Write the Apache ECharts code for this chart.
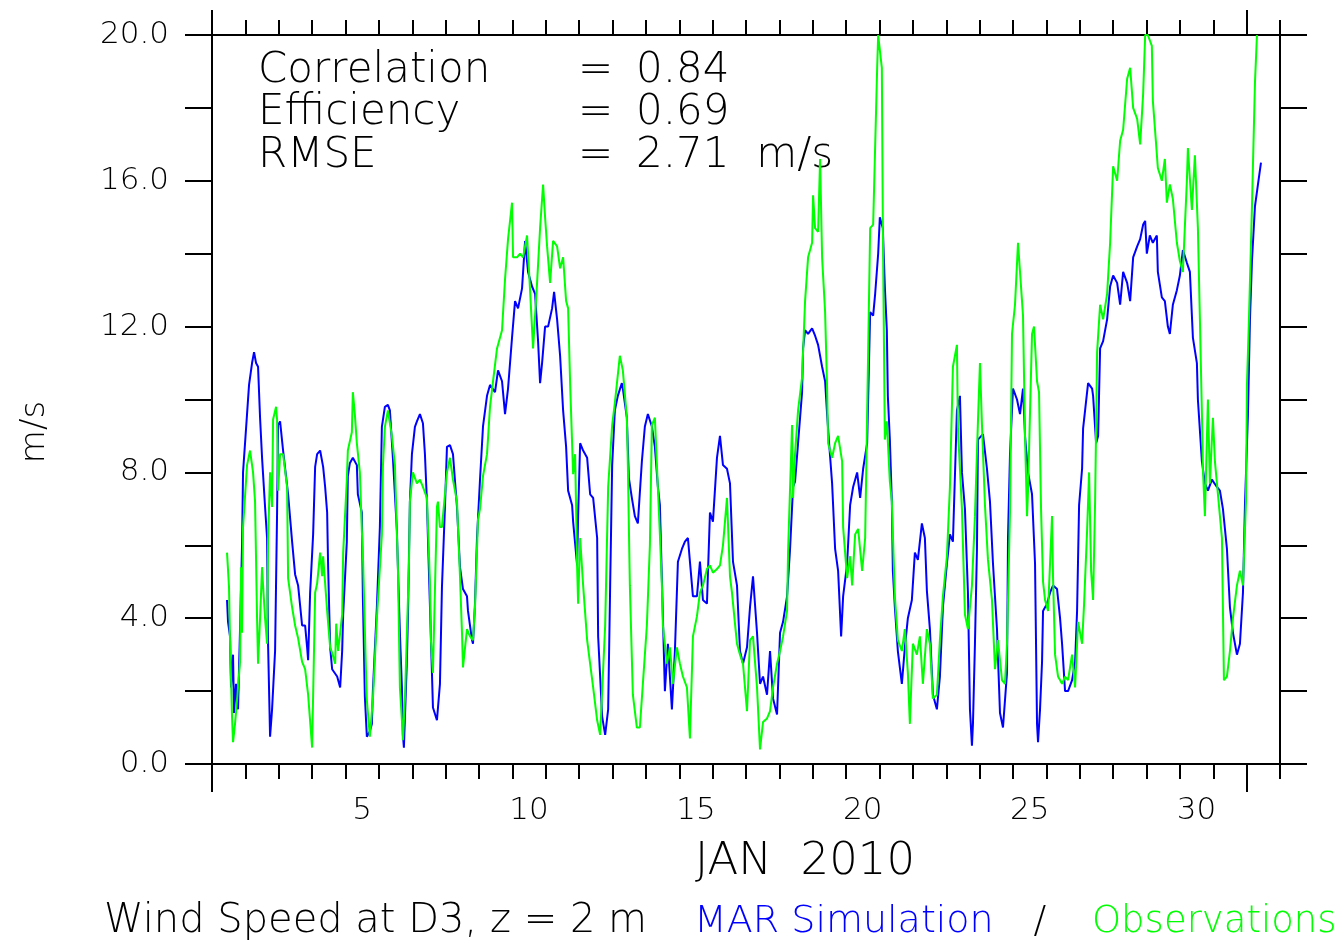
<!DOCTYPE html>
<html>
<head>
<meta charset="utf-8">
<title>Wind Speed at D3</title>
<script src="https://cdn.jsdelivr.net/npm/echarts@6/dist/echarts.min.js"></script>
<style>
  html, body { margin: 0; padding: 0; background: #fff; }
  #chart { width: 1337px; height: 946px; }
</style>
</head>
<body>
<div id="chart"></div>
<script>
// [day since 1 Jan 2010 00:00, wind speed m/s]
const simulation = [
  [0.45,4.5],[0.48,3.9],[0.54,3.5],[0.57,2.1],[0.63,3.0],[0.66,1.4],[0.72,2.2],[0.78,1.5],[0.84,3.7],[0.90,6.0],
  [0.93,8.0],[1.05,9.6],[1.11,10.4],[1.20,11.0],[1.26,11.3],[1.32,11.0],[1.38,10.9],[1.44,9.5],[1.50,8.4],[1.59,7.05],
  [1.65,6.2],[1.68,3.3],[1.74,0.75],[1.80,1.5],[1.89,3.1],[1.95,6.9],[1.98,9.3],[2.04,9.4],[2.13,8.6],[2.28,7.4],
  [2.40,6.1],[2.49,5.2],[2.58,4.9],[2.70,3.8],[2.79,3.8],[2.85,3.2],[2.88,2.85],[2.94,4.7],[3.03,6.3],[3.09,8.15],
  [3.15,8.5],[3.24,8.6],[3.33,8.15],[3.39,7.6],[3.45,6.9],[3.48,5.4],[3.54,3.2],[3.60,2.6],[3.75,2.4],[3.84,2.1],
  [3.90,3.1],[3.93,4.1],[4.04,6.1],[4.07,7.9],[4.13,8.25],[4.22,8.4],[4.34,8.2],[4.37,7.4],[4.49,6.9],[4.52,4.6],
  [4.58,1.85],[4.64,0.75],[4.73,0.9],[4.79,1.1],[4.82,2.0],[4.94,4.3],[5.03,6.5],[5.09,9.25],[5.18,9.8],[5.27,9.85],
  [5.33,9.7],[5.42,8.4],[5.54,6.4],[5.57,5.4],[5.63,3.6],[5.69,2.1],[5.72,0.8],[5.75,0.45],[5.84,2.85],[5.87,4.0],
  [5.93,7.2],[5.99,8.5],[6.08,9.25],[6.14,9.4],[6.23,9.6],[6.32,9.35],[6.38,8.5],[6.44,7.2],[6.47,6.2],[6.59,2.5],
  [6.62,1.55],[6.74,1.2],[6.83,2.2],[6.89,4.85],[6.98,7.05],[7.04,8.7],[7.13,8.75],[7.22,8.5],[7.34,7.05],[7.43,5.4],
  [7.52,4.8],[7.64,4.6],[7.67,4.2],[7.79,3.4],[7.82,3.3],[7.88,4.4],[7.94,6.2],[8.03,7.8],[8.12,9.26],[8.24,10.1],
  [8.33,10.4],[8.48,10.2],[8.57,10.8],[8.69,10.5],[8.78,9.6],[8.87,10.3],[8.99,11.7],[9.08,12.7],[9.17,12.5],[9.29,13.05],
  [9.38,14.35],[9.47,13.5],[9.59,13.1],[9.68,12.9],[9.77,11.6],[9.83,10.45],[9.89,11.0],[9.98,12.0],[10.07,12.0],[10.19,12.5],
  [10.25,12.95],[10.34,12.2],[10.43,11.2],[10.52,9.7],[10.61,8.7],[10.67,7.5],[10.79,7.1],[10.82,6.65],[10.94,5.45],[10.97,6.8],
  [11.03,8.8],[11.12,8.6],[11.24,8.4],[11.33,7.4],[11.42,7.3],[11.54,6.2],[11.57,3.5],[11.69,1.3],[11.78,0.8],[11.87,1.5],
  [11.93,4.9],[11.99,8.2],[12.07,9.7],[12.16,10.1],[12.28,10.45],[12.31,10.3],[12.43,9.5],[12.49,7.85],[12.58,7.3],[12.67,6.8],
  [12.76,6.6],[12.88,8.3],[12.97,9.26],[13.06,9.6],[13.18,9.26],[13.27,8.7],[13.36,7.6],[13.42,7.1],[13.57,2.0],[13.66,3.3],
  [13.78,1.5],[13.87,3.1],[13.96,5.55],[14.08,5.9],[14.17,6.1],[14.26,6.2],[14.32,5.55],[14.41,4.6],[14.53,4.6],[14.62,5.55],
  [14.71,4.5],[14.83,4.4],[14.92,6.9],[15.01,6.65],[15.13,8.4],[15.22,9.0],[15.31,8.2],[15.43,8.1],[15.52,7.7],[15.61,5.55],
  [15.73,4.9],[15.82,3.1],[15.91,2.75],[16.03,3.2],[16.12,4.3],[16.21,5.15],[16.33,3.6],[16.42,2.2],[16.51,2.4],[16.63,1.9],
  [16.72,3.1],[16.81,1.8],[16.93,1.36],[17.02,3.6],[17.11,3.9],[17.23,4.6],[17.32,5.9],[17.41,7.6],[17.47,7.75],[17.56,8.8],
  [17.68,10.2],[17.71,11.4],[17.77,11.9],[17.86,11.8],[17.98,11.95],[18.07,11.75],[18.16,11.5],[18.28,10.9],[18.37,10.5],[18.43,9.6],
  [18.49,8.8],[18.58,7.7],[18.61,7.1],[18.67,5.9],[18.76,5.3],[18.85,3.5],[18.91,4.6],[19.03,5.5],[19.12,7.1],[19.21,7.6],
  [19.33,8.0],[19.42,7.3],[19.51,8.1],[19.63,8.8],[19.72,12.4],[19.81,12.3],[19.87,12.9],[19.96,14.0],[20.01,15.0],[20.10,14.7],
  [20.16,13.1],[20.22,11.9],[20.25,10.1],[20.31,8.9],[20.37,7.2],[20.40,5.3],[20.46,4.3],[20.55,3.1],[20.67,2.2],[20.76,3.2],
  [20.85,4.0],[20.97,4.5],[21.06,5.8],[21.15,5.6],[21.27,6.6],[21.36,6.2],[21.42,4.75],[21.51,3.7],[21.60,1.9],[21.72,1.5],
  [21.81,2.4],[21.90,4.3],[22.02,5.5],[22.11,6.3],[22.20,6.1],[22.32,9.7],[22.41,10.1],[22.47,8.0],[22.56,7.0],[22.65,4.7],
  [22.71,1.5],[22.77,0.5],[22.80,1.1],[22.86,3.3],[22.92,5.9],[22.95,8.9],[23.10,9.05],[23.22,8.1],[23.31,7.2],[23.40,5.5],
  [23.52,3.7],[23.61,1.4],[23.70,1.0],[23.82,2.5],[23.85,6.2],[23.91,8.5],[24.00,10.3],[24.12,10.0],[24.21,9.6],[24.30,10.3],
  [24.36,9.0],[24.45,8.0],[24.57,7.4],[24.66,5.5],[24.72,1.1],[24.75,0.6],[24.81,1.5],[24.87,2.8],[24.90,4.2],[25.02,4.4],
  [25.11,4.7],[25.20,4.9],[25.32,4.8],[25.41,4.0],[25.47,3.3],[25.56,2.0],[25.65,2.0],[25.77,2.3],[25.86,2.8],[25.92,4.2],
  [25.98,7.1],[26.07,8.1],[26.10,9.2],[26.16,9.7],[26.25,10.45],[26.37,10.3],[26.40,10.1],[26.49,8.8],[26.55,9.0],[26.61,11.4],
  [26.70,11.6],[26.82,12.2],[26.91,13.1],[27.00,13.4],[27.12,13.2],[27.21,12.6],[27.30,13.5],[27.42,13.2],[27.51,12.7],[27.60,13.9],
  [27.72,14.2],[27.81,14.4],[27.90,14.8],[27.96,14.9],[28.01,14.0],[28.10,14.5],[28.19,14.3],[28.31,14.5],[28.34,13.5],[28.46,12.8],
  [28.55,12.7],[28.64,12.0],[28.70,11.8],[28.79,12.6],[28.91,13.0],[29.00,13.4],[29.09,14.1],[29.21,13.75],[29.30,13.5],[29.36,12.3],
  [29.39,11.7],[29.51,11.0],[29.54,10.0],[29.66,8.3],[29.75,7.7],[29.84,7.5],[29.96,7.8],[30.11,7.6],[30.20,7.5],[30.29,7.0],
  [30.41,5.9],[30.50,4.3],[30.59,3.6],[30.71,3.0],[30.80,3.3],[30.89,4.7],[30.95,7.1],[31.04,9.6],[31.10,12.2],[31.16,13.8],
  [31.25,15.3],[31.34,15.9],[31.43,16.5]
];

const observations = [
  [0.45,5.8],[0.51,4.85],[0.54,3.4],[0.60,1.3],[0.63,0.6],[0.69,1.1],[0.75,1.75],[0.84,2.8],[0.87,5.4],[0.90,3.6],
  [0.93,6.5],[1.05,8.2],[1.14,8.6],[1.23,8.0],[1.29,7.2],[1.35,4.0],[1.38,2.75],[1.44,4.0],[1.50,5.4],[1.53,4.9],
  [1.59,4.0],[1.65,3.3],[1.68,6.15],[1.74,8.0],[1.80,7.05],[1.83,9.45],[1.92,9.8],[1.95,9.45],[1.98,7.5],[2.04,8.5],
  [2.13,8.5],[2.25,7.6],[2.28,5.1],[2.40,4.3],[2.49,3.8],[2.58,3.45],[2.70,2.8],[2.79,2.6],[2.88,1.9],[3.00,0.45],
  [3.09,4.7],[3.15,4.95],[3.24,5.8],[3.30,5.15],[3.33,5.7],[3.45,4.2],[3.54,3.2],[3.60,3.05],[3.69,2.75],[3.72,3.85],
  [3.78,3.1],[3.90,4.1],[3.93,5.8],[4.04,7.8],[4.07,8.6],[4.19,9.1],[4.22,10.2],[4.28,9.6],[4.34,8.8],[4.43,8.0],
  [4.49,6.4],[4.52,5.8],[4.61,2.65],[4.64,1.75],[4.73,0.75],[4.82,1.75],[4.94,4.0],[5.09,6.3],[5.12,8.15],[5.18,9.25],
  [5.27,9.7],[5.39,9.0],[5.48,8.2],[5.57,5.4],[5.63,2.1],[5.69,1.2],[5.72,0.65],[5.78,1.75],[5.84,3.6],[5.90,5.4],
  [5.93,7.2],[6.02,8.0],[6.14,7.7],[6.23,7.8],[6.32,7.6],[6.44,7.3],[6.53,5.0],[6.56,3.4],[6.62,2.5],[6.74,7.05],
  [6.77,7.2],[6.83,6.5],[6.89,6.5],[6.98,7.4],[7.04,8.0],[7.13,8.4],[7.22,7.8],[7.34,7.2],[7.43,5.15],[7.49,3.6],
  [7.52,2.65],[7.64,3.7],[7.73,3.5],[7.82,3.4],[7.88,4.3],[7.97,6.7],[8.03,7.0],[8.12,7.9],[8.24,8.5],[8.33,9.8],
  [8.42,10.5],[8.54,11.4],[8.69,11.9],[8.78,13.3],[8.87,14.4],[8.99,15.4],[9.02,13.9],[9.14,13.9],[9.23,14.0],[9.32,13.9],
  [9.44,14.5],[9.53,13.0],[9.62,11.4],[9.74,13.2],[9.83,14.7],[9.92,15.9],[9.98,15.0],[10.04,14.2],[10.13,13.2],[10.22,14.35],
  [10.34,14.2],[10.43,13.6],[10.52,13.9],[10.61,12.7],[10.67,12.5],[10.73,10.45],[10.82,7.95],[10.88,8.5],[10.94,5.4],[10.97,4.4],
  [11.03,6.2],[11.12,4.9],[11.24,3.4],[11.33,2.75],[11.42,2.1],[11.54,1.2],[11.63,0.8],[11.78,3.8],[11.87,7.6],[11.99,9.3],
  [12.07,9.9],[12.22,11.2],[12.31,10.8],[12.43,9.5],[12.46,8.2],[12.52,4.9],[12.61,1.9],[12.73,1.0],[12.82,1.0],[12.91,2.2],
  [13.03,3.8],[13.12,6.0],[13.18,9.3],[13.27,9.5],[13.33,8.2],[13.42,6.3],[13.48,4.9],[13.51,3.8],[13.63,2.75],[13.72,3.2],
  [13.81,2.2],[13.93,3.2],[14.02,2.75],[14.11,2.4],[14.23,2.1],[14.32,0.7],[14.41,3.5],[14.53,4.05],[14.62,4.7],[14.71,4.9],
  [14.83,5.35],[14.92,5.45],[15.01,5.25],[15.13,5.35],[15.22,5.45],[15.31,6.0],[15.43,7.3],[15.52,5.15],[15.58,4.7],[15.67,3.85],
  [15.73,3.3],[15.82,3.0],[15.91,2.75],[16.03,1.45],[16.12,3.4],[16.21,3.5],[16.33,2.1],[16.42,0.4],[16.51,1.15],[16.63,1.25],
  [16.72,1.45],[16.81,2.1],[16.93,2.75],[17.02,3.1],[17.11,3.5],[17.23,4.2],[17.26,5.8],[17.38,9.3],[17.41,7.3],[17.47,8.5],
  [17.56,9.7],[17.68,10.6],[17.77,12.7],[17.86,13.9],[17.98,14.3],[18.01,15.6],[18.07,14.7],[18.16,14.6],[18.22,16.6],[18.28,13.9],
  [18.37,12.4],[18.43,10.3],[18.46,8.8],[18.58,8.4],[18.67,8.8],[18.76,9.0],[18.88,8.3],[18.91,6.5],[19.03,5.1],[19.12,5.7],
  [19.18,4.9],[19.27,6.3],[19.36,6.45],[19.48,5.3],[19.57,6.2],[19.63,9.6],[19.72,14.7],[19.81,14.8],[19.93,19.1],[19.96,20.0],
  [20.07,19.1],[20.10,14.8],[20.16,8.9],[20.22,9.4],[20.31,7.75],[20.37,7.2],[20.46,4.6],[20.55,3.4],[20.67,3.1],[20.76,3.7],
  [20.85,2.5],[20.91,1.1],[21.00,3.3],[21.12,3.0],[21.21,3.5],[21.30,2.2],[21.42,3.7],[21.51,3.3],[21.60,1.8],[21.72,1.9],
  [21.81,3.4],[21.90,4.6],[22.02,5.7],[22.11,7.6],[22.20,10.9],[22.32,11.5],[22.35,9.2],[22.47,7.0],[22.56,4.1],[22.65,3.7],
  [22.77,4.9],[22.86,6.8],[22.95,9.4],[23.01,11.0],[23.07,9.3],[23.16,7.1],[23.25,5.6],[23.37,4.5],[23.46,2.6],[23.55,3.4],
  [23.67,2.3],[23.76,2.2],[23.82,3.3],[23.91,6.9],[23.97,11.8],[24.06,12.6],[24.15,14.3],[24.21,13.5],[24.30,12.3],[24.36,9.0],
  [24.42,6.8],[24.45,7.5],[24.57,11.8],[24.63,12.0],[24.72,10.5],[24.78,10.2],[24.84,7.0],[24.90,5.0],[24.96,4.5],[25.05,4.2],
  [25.17,6.8],[25.20,5.1],[25.26,3.0],[25.35,2.4],[25.47,2.2],[25.56,2.4],[25.65,2.3],[25.77,3.0],[25.86,2.1],[25.95,3.9],
  [26.07,3.3],[26.13,4.4],[26.22,6.4],[26.28,8.0],[26.34,5.3],[26.40,4.5],[26.46,7.2],[26.52,11.3],[26.61,12.6],[26.70,12.2],
  [26.82,12.9],[26.91,14.3],[27.00,16.4],[27.12,16.0],[27.21,17.1],[27.30,17.4],[27.42,18.8],[27.51,19.1],[27.60,18.0],[27.72,17.7],
  [27.81,17.0],[27.90,18.4],[27.96,20.0],[28.04,20.0],[28.16,19.7],[28.19,18.2],[28.28,17.1],[28.34,16.35],[28.46,16.0],[28.55,16.6],
  [28.61,15.4],[28.70,15.9],[28.79,15.5],[28.91,14.3],[29.00,13.8],[29.09,13.5],[29.21,16.0],[29.24,16.9],[29.36,15.2],[29.45,16.7],
  [29.54,14.7],[29.60,12.2],[29.66,9.6],[29.69,8.1],[29.75,6.8],[29.84,10.0],[29.90,7.7],[29.99,9.5],[30.05,8.3],[30.14,7.4],
  [30.26,6.2],[30.32,2.3],[30.41,2.4],[30.50,3.1],[30.59,4.0],[30.71,4.9],[30.80,5.3],[30.89,4.9],[30.98,7.2],[31.01,10.4],
  [31.07,12.2],[31.16,15.3],[31.25,18.7],[31.31,20.0]
];

const dayTicks = [1,2,3,4,5,6,7,8,9,10,11,12,13,14,15,16,17,18,19,20,21,22,23,24,25,26,27,28,29,30,32];
const monthTicks = [0, 31];
const dayLabelPos = [4.5, 9.5, 14.5, 19.5, 24.5, 29.5];
const speedTicks = [0,2,4,6,8,10,12,14,16,18,20];
const speedLabels = [0,4,8,12,16,20];
const statNames = ["Correlation", "Efficiency", "RMSE"];
const statValues = ["0.84", "0.69", "2.71  m/s"];

const FONT = "DejaVu Sans";
const INK = "#000";
const tickStyle = { color: INK, width: 2 };

function xAx(position, ticks, len, withLine, labels) {
  return {
    type: "value", min: 0, max: 32, position: position,
    axisLine: { show: withLine, onZero: false, lineStyle: tickStyle },
    axisTick: { show: true, customValues: ticks, length: len, lineStyle: tickStyle },
    axisLabel: labels ? {
      show: true, customValues: labels, margin: 31,
      formatter: v => String(Math.round(v + 0.5)),
      color: INK, fontFamily: FONT, fontWeight: 200, fontSize: 31
    } : { show: false },
    splitLine: { show: false }
  };
}

function yAx(position, labels) {
  return {
    type: "value", min: 0, max: 20, position: position,
    axisLine: { show: true, onZero: false, lineStyle: tickStyle },
    axisTick: { show: true, customValues: speedTicks, length: 27, lineStyle: tickStyle },
    axisLabel: labels ? {
      show: true, customValues: speedLabels, margin: 43,
      formatter: v => v.toFixed(1),
      color: INK, fontFamily: FONT, fontWeight: 200, fontSize: 31
    } : { show: false },
    splitLine: { show: false }
  };
}

function txt(text, x, y, size, color, align, rot) {
  return {
    type: "text", x: x, y: y, rotation: rot || 0, silent: true,
    style: {
      text: text, fill: color, fontFamily: FONT, fontWeight: 200, fontSize: size,
      align: align, verticalAlign: "middle", textAlign: align, textVerticalAlign: "middle"
    }
  };
}

const graphics = [];
statNames.forEach((n, i) => {
  const y = 71 + i * 42.5;
  graphics.push(txt(n, 258, y, 42, INK, "left"));
  graphics.push(txt("=", 578, y, 42, INK, "left"));
  graphics.push(txt(statValues[i], 636, y, 42, INK, "left"));
});
graphics.push(txt("JAN  2010", 805, 862, 45, INK, "center"));
graphics.push(txt("m/s", 35, 432, 34, INK, "center", Math.PI / 2));
graphics.push(txt("Wind Speed at D3, z = 2 m", 104, 922, 40, INK, "left"));
graphics.push(txt("MAR Simulation", 694, 922, 38, "#0000ff", "left"));
graphics.push(txt("/", 1040, 922, 38, INK, "center"));
graphics.push(txt("Observations", 1092, 922, 37, "#00ff00", "left"));

const chart = echarts.init(document.getElementById("chart"));
chart.setOption({
  animation: false,
  backgroundColor: "#fff",
  grid: { left: 212, right: 57, top: 35, bottom: 182, containLabel: false },
  xAxis: [
    xAx("bottom", dayTicks, 15, true, null),
    xAx("bottom", monthTicks, 28, false, dayLabelPos),
    xAx("top", dayTicks, 15, true, null),
    xAx("top", monthTicks, 25, false, null)
  ],
  yAxis: [yAx("left", true), yAx("right", false)],
  series: [
    {
      name: "MAR Simulation", type: "line", data: simulation,
      xAxisIndex: 0, yAxisIndex: 0, showSymbol: false, symbol: "none",
      lineStyle: { color: "#0000ff", width: 2 }
    },
    {
      name: "Observations", type: "line", data: observations,
      xAxisIndex: 0, yAxisIndex: 0, showSymbol: false, symbol: "none",
      lineStyle: { color: "#00ff00", width: 2 }
    }
  ],
  graphic: graphics
});
</script>
</body>
</html>
